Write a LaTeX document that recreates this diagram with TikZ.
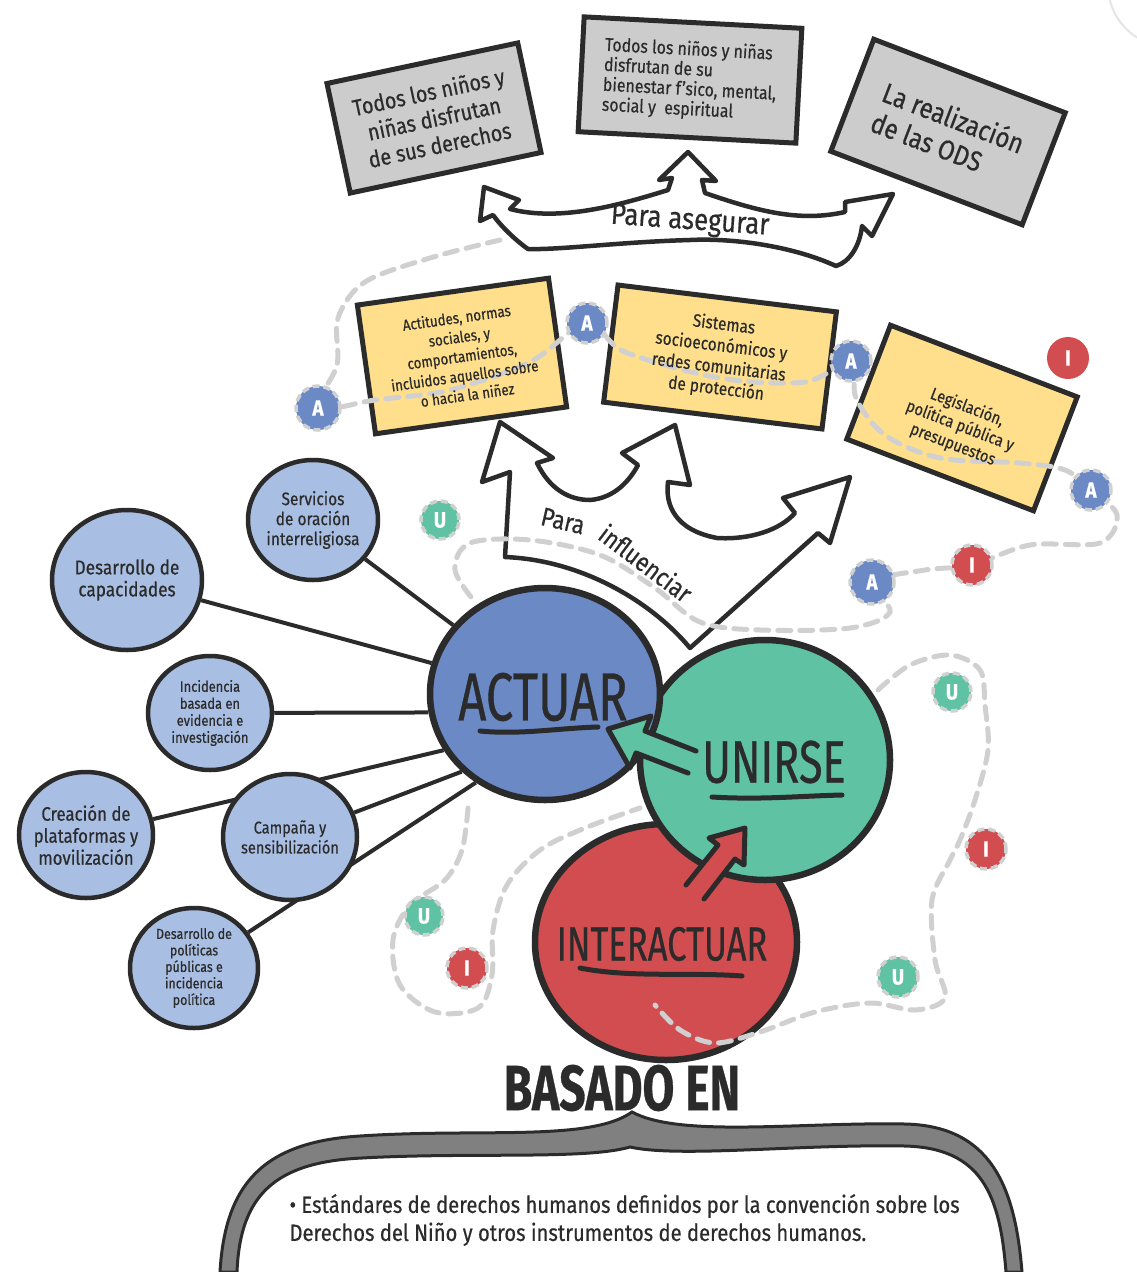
\documentclass[tikz,border=0pt]{standalone}
\usepackage{fontspec}
\setmainfont{Fira Sans}[FakeStretch=0.86, FakeBold=0.5]
\newfontfamily\condfont{Fira Sans}[FakeStretch=0.72, FakeBold=0.5]
\usepackage{tikz}
\usetikzlibrary{positioning, shapes.geometric, backgrounds}

\definecolor{ink}{HTML}{2B2B2B}
\definecolor{goalgray}{HTML}{CCCCCC}
\definecolor{levyellow}{HTML}{FFDF8C}
\definecolor{waysky}{HTML}{A9BEE3}
\definecolor{actblue}{HTML}{6A89C5}
\definecolor{unigreen}{HTML}{5EC2A3}
\definecolor{intred}{HTML}{D14D50}
\definecolor{trailgray}{HTML}{D0D0D0}
\definecolor{bracegray}{HTML}{808080}

\pgfdeclarelayer{front}
\pgfsetlayers{background,main,front}

\newcommand{\fsz}[2]{\fontsize{#1}{#2}\selectfont}

\begin{document}
\begin{tikzpicture}[x=1pt,y=-1pt,
    goalbox/.style={draw=ink, line width=5pt, fill=goalgray, align=center, inner sep=0pt, text=ink},
    levbox/.style={draw=ink, line width=5pt, fill=levyellow, inner sep=0pt},
    levtext/.style={align=center, inner sep=0pt, text=ink},
    way/.style={ellipse, draw=ink, line width=4.5pt, fill=waysky, inner sep=0pt},
    waytext/.style={align=center, text=ink},
    bigway/.style={ellipse, draw=ink, line width=6.5pt, inner sep=0pt},
    bigword/.style={text=ink},
    spoke/.style={draw=ink, line width=4pt},
    badge/.style={circle, fill=#1, draw=trailgray, line width=3.5pt, dash pattern=on 7pt off 4pt,
        text=white, font=\fsz{22}{22}\bfseries, inner sep=0pt, minimum size=40pt},
    trail/.style={draw=trailgray, line width=5pt, dash pattern=on 13pt off 9pt, line cap=round},
    fatarrow/.style={draw=ink, line width=4.5pt, fill=white, line join=round},
    underl/.style={draw=ink, line width=5pt, line cap=round}
]
\begin{scope}[on background layer]
    \fill[white] (0,0) rectangle (1137,1272);
\end{scope}
\useasboundingbox (0,0) rectangle (1137,1272);
\draw[gray!20, line width=2pt] (1170,-15) circle (62);

% goals
\node[goalbox, rotate=12, minimum width=195pt, minimum height=112pt, font=\fsz{23}{27}] (g1) at (434,118)
    {Todos los niños y\\niñas disfrutan\\de sus derechos};
\node[goalbox, rotate=-3, minimum width=218pt, minimum height=115pt, font=\fsz{18.5}{20}, align=left] (g2) at (690,80)
    {Todos los niños y niñas\\disfrutan de su\\bienestar f’sico, mental,\\social y\ \ espiritual};
\node[goalbox, rotate=-21, minimum width=205pt, minimum height=120pt, font=\fsz{28}{32}, align=left] (g3) at (948,132)
    {La realización\\de las ODS};

% para asegurar
\draw[fatarrow] (484,187) -- (519,200) -- (510,209) .. controls (560,222) and (620,205) .. (668,190)
    -- (672,178) -- (659,180) -- (688,152) -- (716,181) -- (702,180) -- (705,193)
    .. controls (760,212) and (800,222) .. (845,212) -- (845,202) -- (893,194) -- (872,236) -- (862,226)
    .. controls (860,245) and (850,262) .. (836,266) .. controls (790,245) and (730,238) .. (690,240)
    .. controls (620,242) and (560,250) .. (528,249) .. controls (515,240) and (500,225) .. (493,215)
    -- (480,221) -- cycle;
\node[font=\fsz{30}{30}, rotate=-4, text=ink] (asegtxt) at (690,222) {Para asegurar};

% levers
\node[levbox, rotate=8, minimum width=193pt, minimum height=130pt] (y1) at (462,356) {};
\node[levbox, rotate=-7, minimum width=220pt, minimum height=118pt] (y2) at (720,357) {};
\node[levbox, rotate=-21, minimum width=200pt, minimum height=122pt] (y3) at (962,418) {};

% para influenciar
\draw[fatarrow] (500,422) -- (553,458) -- (537,463) .. controls (550,490) and (570,500) .. (590,500)
    .. controls (615,498) and (630,480) .. (638,465) -- (622,453) -- (675,425) -- (690,485) -- (668,482)
    .. controls (665,505) and (675,530) .. (717,538) .. controls (750,540) and (780,530) .. (795,513)
    -- (783,498) -- (850,477) -- (830,543) -- (818,533) -- (690,648)
    .. controls (650,600) and (580,560) .. (505,557) -- (510,472) -- (482,482) -- cycle;
\node[font=\fsz{26}{26}, rotate=-13, text=ink] (infltxt) at (563,521) {Para};
\node[font=\fsz{26}{26}, rotate=-37, text=ink] (infltxt2) at (646,563) {influenciar};

% ways of working
\node[bigway, fill=intred, minimum width=262pt, minimum height=236pt] (interactuar) at (666,942) {};
\node[bigway, fill=unigreen, minimum width=250pt, minimum height=240pt] (unirse) at (765,760) {};
\fill[intred] (704,899) -- (735,859) -- (744,865) -- (745,828) -- (709,838) -- (718,845) -- (686,885) -- cycle;
\draw[ink, line width=5pt, line join=round, line cap=round]
    (704,899) -- (735,859) -- (744,865) -- (745,828) -- (709,838) -- (718,845) -- (686,885);
\node[bigway, fill=actblue, minimum width=230pt, minimum height=212pt] (actuar) at (545,694) {};
\fill[unigreen] (696,751) -- (645,731) -- (651,716) -- (608,729) -- (630,768) -- (636,753) -- (688,773) -- cycle;
\draw[ink, line width=5pt, line join=round, line cap=round]
    (696,751) -- (645,731) -- (651,716) -- (608,729) -- (630,768) -- (636,753) -- (688,773);

\node[bigword, font=\condfont\fsz{68}{68}] (actuarlbl) at (543,697) {ACTUAR};
\node[bigword, font=\condfont\fsz{60}{60}] (unirselbl) at (774,762) {UNIRSE};
\node[bigword, font=\condfont\fsz{48}{48}] (interlbl) at (662,944) {INTERACTUAR};
\draw[underl] (480,731) .. controls (520,735) and (560,728) .. (598,727);
\draw[underl] (712,797) .. controls (760,800) and (800,796) .. (842,795);
\draw[underl] (580,968) .. controls (630,978) and (690,972) .. (742,976);

\node[way, minimum width=130pt, minimum height=120pt,
    label={[waytext, font=\fsz{18}{20}]center:Servicios\\de oración\\interreligiosa}] (s1) at (313,520) {};
\node[way, minimum width=150pt, minimum height=140pt,
    label={[waytext, font=\fsz{20}{22}]center:Desarrollo de\\capacidades}] (s2) at (127,580) {};
\node[way, minimum width=124pt, minimum height=114pt,
    label={[waytext, font=\fsz{15}{17}]center:Incidencia\\basada en\\evidencia e\\investigación}] (s3) at (210,713) {};
\node[way, minimum width=134pt, minimum height=126pt,
    label={[waytext, font=\fsz{19.5}{22}]center:Creación de\\plataformas y\\movilización}] (s4) at (86,835) {};
\node[way, minimum width=134pt, minimum height=126pt,
    label={[waytext, font=\fsz{17}{20}]center:Campaña y\\sensibilización}] (s5) at (290,837) {};
\node[way, minimum width=128pt, minimum height=120pt,
    label={[waytext, font=\fsz{14.5}{16.5}]center:Desarrollo de\\políticas\\públicas e\\incidencia\\política}] (s6) at (194,968) {};

\begin{scope}[on background layer]
    \draw[spoke] (s1) -- (actuar);
    \draw[spoke] (s2) -- (actuar);
    \draw[spoke] (s3) -- (actuar.189);
    \draw[spoke] (s4) -- (actuar.209);
    \draw[spoke] (s5) -- (actuar.223);
    \draw[spoke] (s6) -- (actuar.232);
\end{scope}

% badges and lever texts
\begin{pgfonlayer}{front}
    \node[levtext, rotate=8, font=\fsz{15.5}{19.5}] (y1t) at (y1) {Actitudes, normas\\sociales, y\\comportamientos,\\incluidos aquellos sobre\\o hacia la niñez};
    \node[levtext, rotate=-7, font=\fsz{18}{21.5}] (y2t) at (y2) {Sistemas\\socioeconómicos y\\redes comunitarias\\de protección};
    \node[levtext, rotate=-21, font=\fsz{17}{20}] (y3t) at ([xshift=-2pt,yshift=-8pt]y3.center) {Legislación,\\política pública y\\presupuestos};
    \node[badge=actblue, minimum size=44pt] (a1) at (318,408) {A};
    \node[badge=actblue] (a2) at (587,323) {A};
    \node[badge=actblue] (a3) at (851,361) {A};
    \node[badge=actblue] (a4) at (1091,490) {A};
    \node[badge=actblue, minimum size=44pt] (a5) at (872,582) {A};
    \node[badge=intred, draw=none, minimum size=42pt] (i1) at (1068,358) {I};
    \node[badge=intred] (i2) at (972,565) {I};
    \node[badge=intred] (i3) at (986,849) {I};
    \node[badge=intred] (i4) at (467,968) {I};
    \node[badge=unigreen, minimum size=38pt] (u1) at (440,520) {U};
    \node[badge=unigreen, minimum size=38pt] (u2) at (952,692) {U};
    \node[badge=unigreen] (u3) at (898,977) {U};
    \node[badge=unigreen, minimum size=38pt] (u4) at (424,916) {U};
\end{pgfonlayer}

% trails
\draw[trail] plot[smooth, tension=0.55] coordinates {(500,240) (430,258) (365,282) (338,318) (337,365) (a1)
    (375,400) (450,390) (530,362) (a2) (625,352) (720,378) (805,382) (a3) (856,398) (885,435) (940,458)
    (1020,463) (1065,470) (a4) (1117,515) (1100,543) (1030,545) (i2) (925,570) (a5) (890,612) (850,628)
    (760,630) (700,622) (655,588) (600,555) (530,540) (470,543) (455,570) (475,602)};
\draw[trail] plot[smooth, tension=0.55] coordinates {(878,690) (910,665) (950,655) (980,670) (985,705)
    (988,750) (975,800) (960,840) (950,860) (932,900) (935,960) (945,998) (915,1010) (870,1003)
    (815,1012) (760,1032) (715,1043) (680,1030) (655,1005)};
\draw[trail] plot[smooth, tension=0.55] coordinates {(468,808) (462,850) (445,880) (410,905) (393,940)
    (400,985) (435,1012) (478,1008) (492,975) (493,930) (507,885) (540,850) (585,828) (640,808)};

% basis
\node[font=\condfont\fsz{64}{64}\bfseries, text=ink] (basado) at (622,1088) {BASADO EN};
\draw[draw=ink, line width=3pt, fill=bracegray] (220,1272) .. controls (225,1185) and (262,1142) .. (360,1136)
    .. controls (480,1128) and (590,1142) .. (632,1112) .. controls (680,1138) and (800,1122) .. (905,1124)
    .. controls (990,1126) and (1015,1185) .. (1022,1272) -- (1006,1272)
    .. controls (1000,1195) and (982,1148) .. (905,1146) .. controls (800,1144) and (680,1158) .. (630,1147)
    .. controls (585,1160) and (470,1152) .. (362,1158) .. controls (275,1162) and (240,1195) .. (237,1272) -- cycle;
\node[anchor=west, align=left, font=\fsz{23.5}{28}, text=ink] (basis) at (286,1220)
    {• Estándares de derechos humanos definidos por la convención sobre los\\Derechos del Niño y otros instrumentos de derechos humanos.};
\end{tikzpicture}
\end{document}
